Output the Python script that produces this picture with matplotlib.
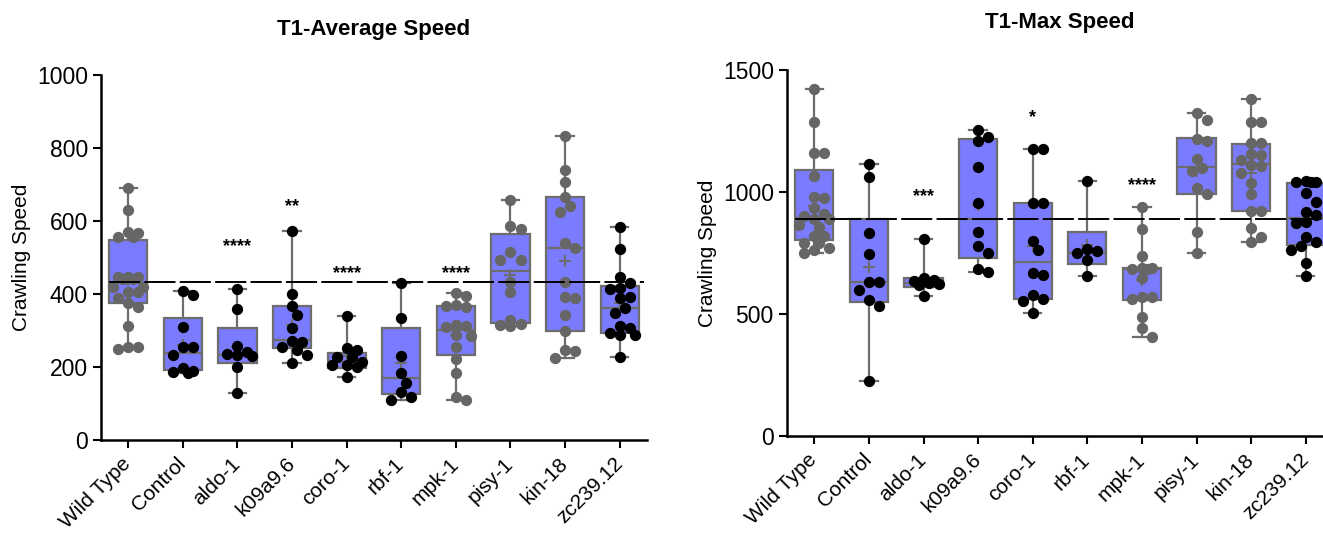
import numpy as np
import matplotlib
matplotlib.use('Agg')
import matplotlib.pyplot as plt

plt.rcParams['font.family'] = ['Liberation Sans', 'DejaVu Sans']

categories = ['Wild Type', 'Control', 'aldo-1', 'k09a9.6', 'coro-1',
              'rbf-1', 'mpk-1', 'pisy-1', 'kin-18', 'zc239.12']

# ---------------- T1-Average Speed ----------------
avg_wild_type = [691, 630, 571, 557, 557, 566, 446, 446, 446, 440, 440, 420,
                 420, 405, 405, 388, 375, 365, 313, 256, 256, 250]
avg_control = [408, 397, 310, 254, 254, 233, 189, 183, 187, 196]
avg_aldo1 = [415, 358, 258, 235, 232, 240, 230, 201, 128]
avg_k09a96 = [573, 399, 367, 342, 306, 271, 268, 254, 247, 233, 210]
avg_coro1 = [341, 247, 251, 228, 228, 215, 205, 205, 200, 173]
avg_rbf1 = [431, 333, 230, 183, 157, 132, 119, 110]
avg_mpk1 = [402, 395, 370, 365, 368, 315, 312, 310, 287, 285, 256, 222, 183,
            118, 110]
avg_pisy1 = [658, 587, 577, 516, 493, 493, 434, 405, 329, 317, 314, 312]
avg_kin18 = [833, 740, 708, 667, 641, 625, 541, 525, 434, 391, 388, 342, 300,
             247, 245, 224]
avg_zc239 = [583, 523, 447, 430, 416, 414, 393, 388, 363, 349, 312, 306, 292,
             288, 288, 228]
avg_q1 = [374, 192, 210, 251, 196, 125, 233, 320, 300, 292]
avg_median = [430, 237, 233, 274, 214, 169, 301, 464, 525, 362]
avg_q3 = [548, 333, 306, 368, 237, 306, 368, 564, 667, 422]
avg_ref = 434
avg_sig_groups = ['aldo-1', 'k09a9.6', 'coro-1', 'mpk-1']
avg_sig_labels = ['****', '**', '****', '****']
avg_sig_y = [530, 639, 457, 457]

# ---------------- T1-Max Speed ----------------
max_wild_type = [1421, 1288, 1161, 1161, 1066, 981, 974, 933, 910, 902, 890,
                 890, 865, 858, 820, 820, 790, 790, 769, 762, 749]
max_control = [1113, 1063, 833, 745, 632, 632, 598, 557, 533, 227]
max_aldo1 = [807, 648, 640, 636, 628, 625, 620, 574]
max_k09a96 = [1254, 1227, 1209, 1104, 954, 835, 780, 749, 683, 673]
max_coro1 = [1175, 1175, 954, 954, 799, 762, 667, 660, 578, 560, 554, 503]
max_rbf1 = [1046, 765, 760, 751, 721, 656]
max_mpk1 = [937, 847, 738, 690, 690, 686, 684, 646, 568, 560, 568, 489, 441,
            407]
max_pisy1 = [1322, 1295, 1216, 1210, 1134, 1097, 1085, 1018, 992, 837, 751]
max_kin18 = [1380, 1288, 1288, 1200, 1200, 1150, 1155, 1130, 1110, 1106, 1077,
             1036, 990, 923, 923, 851, 817, 796]
max_zc239 = [1042, 1040, 1040, 1045, 995, 960, 906, 919, 878, 875, 817, 796,
             779, 762, 710, 656]
max_q1 = [803, 550, 612, 731, 560, 705, 557, 992, 923, 783]
max_median = [893, 632, 628, 890, 714, 751, 686, 1104, 1115, 893]
max_q3 = [1090, 890, 646, 1216, 954, 835, 690, 1223, 1195, 1037]
max_ref = 890
max_sig_groups = ['aldo-1', 'coro-1', 'mpk-1']
max_sig_labels = ['***', '*', '****']
max_sig_y = [981, 1306, 1026]

gray_groups = ['Wild Type', 'mpk-1', 'pisy-1', 'kin-18']

BOX_FACE = '#7b7bff'
BOX_EDGE = '#6d6d6d'
GRAY_PT = '#666666'

W_PX, H_PX = 1323, 535
fig = plt.figure(figsize=(W_PX / 100, H_PX / 100), dpi=100)


def axes_px(x0, x1, y_top, y_bot):
    return fig.add_axes([x0 / W_PX, (H_PX - y_bot) / H_PX,
                         (x1 - x0) / W_PX, (y_bot - y_top) / H_PX])


def swarm_offsets(vals, px_per_x, px_per_y, diam=10.0, max_off=17.0):
    """Beeswarm limited to the box width; overlaps allowed when crowded."""
    order = np.argsort(vals)[::-1]
    placed = []
    offs = np.zeros(len(vals))
    step = diam * 0.5
    cands = [0.0]
    k = 1
    while k * step <= max_off + 1e-6:
        cands += [k * step, -k * step]
        k += 1
    for i in order:
        yv = vals[i] * px_per_y
        best_c, best_d = 0.0, -1.0
        chosen = None
        for c in cands:
            d = min([np.hypot(c - px, yv - py) for px, py in placed] or [1e9])
            if d >= diam:
                chosen = c
                break
            if d > best_d:
                best_d, best_c = d, c
        if chosen is None:
            chosen = best_c
        placed.append((chosen, yv))
        offs[i] = chosen / px_per_x
    return offs


def draw_panel(ax, groups, q1, med, q3, ref, ymax, yticks,
               sig_groups, sig_labels, sig_y, ax_w_px, ax_h_px):
    pos = np.arange(len(categories))
    stats = []
    for g, a, m, b in zip(groups, q1, med, q3):
        stats.append(dict(q1=a, med=m, q3=b, whislo=min(g), whishi=max(g),
                          mean=float(np.mean(g)), fliers=[]))
    ax.bxp(stats, positions=pos, widths=0.7, capwidths=0.32,
           patch_artist=True, showmeans=True, showfliers=False,
           boxprops=dict(facecolor=BOX_FACE, edgecolor=BOX_EDGE, linewidth=1.6),
           whiskerprops=dict(color=BOX_EDGE, linewidth=1.6),
           capprops=dict(color=BOX_EDGE, linewidth=1.6),
           medianprops=dict(color=BOX_EDGE, linewidth=1.6),
           meanprops=dict(marker='+', markeredgecolor=BOX_EDGE,
                          markerfacecolor=BOX_EDGE, markersize=9,
                          markeredgewidth=1.5))
    px_per_x = ax_w_px / 10.0
    px_per_y = ax_h_px / ymax
    for p, name, g in zip(pos, categories, groups):
        g = np.asarray(g, dtype=float)
        offs = swarm_offsets(g, px_per_x, px_per_y)
        col = GRAY_PT if name in gray_groups else 'black'
        ax.scatter(p + offs, g, s=66, color=col, zorder=4, linewidths=0)
    ax.plot([pos[0] - 0.35, 9.45], [ref, ref], color='black', lw=1.4,
            linestyle=(0, (16, 2.2)), zorder=6)
    for name, lab, yy in zip(sig_groups, sig_labels, sig_y):
        ax.text(categories.index(name), yy, lab, ha='center', va='center',
                fontsize=13, fontweight='bold', zorder=7)
    ax.set_xlim(-0.5, 9.5)
    ax.set_ylim(0, ymax)
    ax.set_yticks(yticks)
    ax.set_xticks(pos)
    ax.set_xticklabels(categories, rotation=45, ha='right', va='center',
                       rotation_mode='anchor', fontsize=15)
    ax.tick_params(axis='both', direction='out', length=6, width=1.5,
                   labelsize=16.5, colors='black')
    ax.tick_params(axis='x', labelsize=15, pad=9)
    for s in ['top', 'right']:
        ax.spines[s].set_visible(False)
    for s in ['left', 'bottom']:
        ax.spines[s].set_linewidth(1.8)
        ax.spines[s].set_color('black')
    ax.set_ylabel('Crawling Speed', fontsize=15, labelpad=4)
    ax.set_facecolor('white')


ax1 = axes_px(101, 647, 75, 440)
draw_panel(ax1, [avg_wild_type, avg_control, avg_aldo1, avg_k09a96, avg_coro1,
                 avg_rbf1, avg_mpk1, avg_pisy1, avg_kin18, avg_zc239],
           avg_q1, avg_median, avg_q3, avg_ref, 1000,
           [0, 200, 400, 600, 800, 1000],
           avg_sig_groups, avg_sig_labels, avg_sig_y, 546, 365)
ax1.set_title('T1-Average Speed', fontsize=16, fontweight='bold', pad=29)

ax2 = axes_px(787, 1333, 70, 436)
draw_panel(ax2, [max_wild_type, max_control, max_aldo1, max_k09a96, max_coro1,
                 max_rbf1, max_mpk1, max_pisy1, max_kin18, max_zc239],
           max_q1, max_median, max_q3, max_ref, 1500,
           [0, 500, 1000, 1500],
           max_sig_groups, max_sig_labels, max_sig_y, 546, 366)
ax2.set_title('T1-Max Speed', fontsize=16, fontweight='bold', pad=30)

fig.savefig('out.png', dpi=100, facecolor='white')
